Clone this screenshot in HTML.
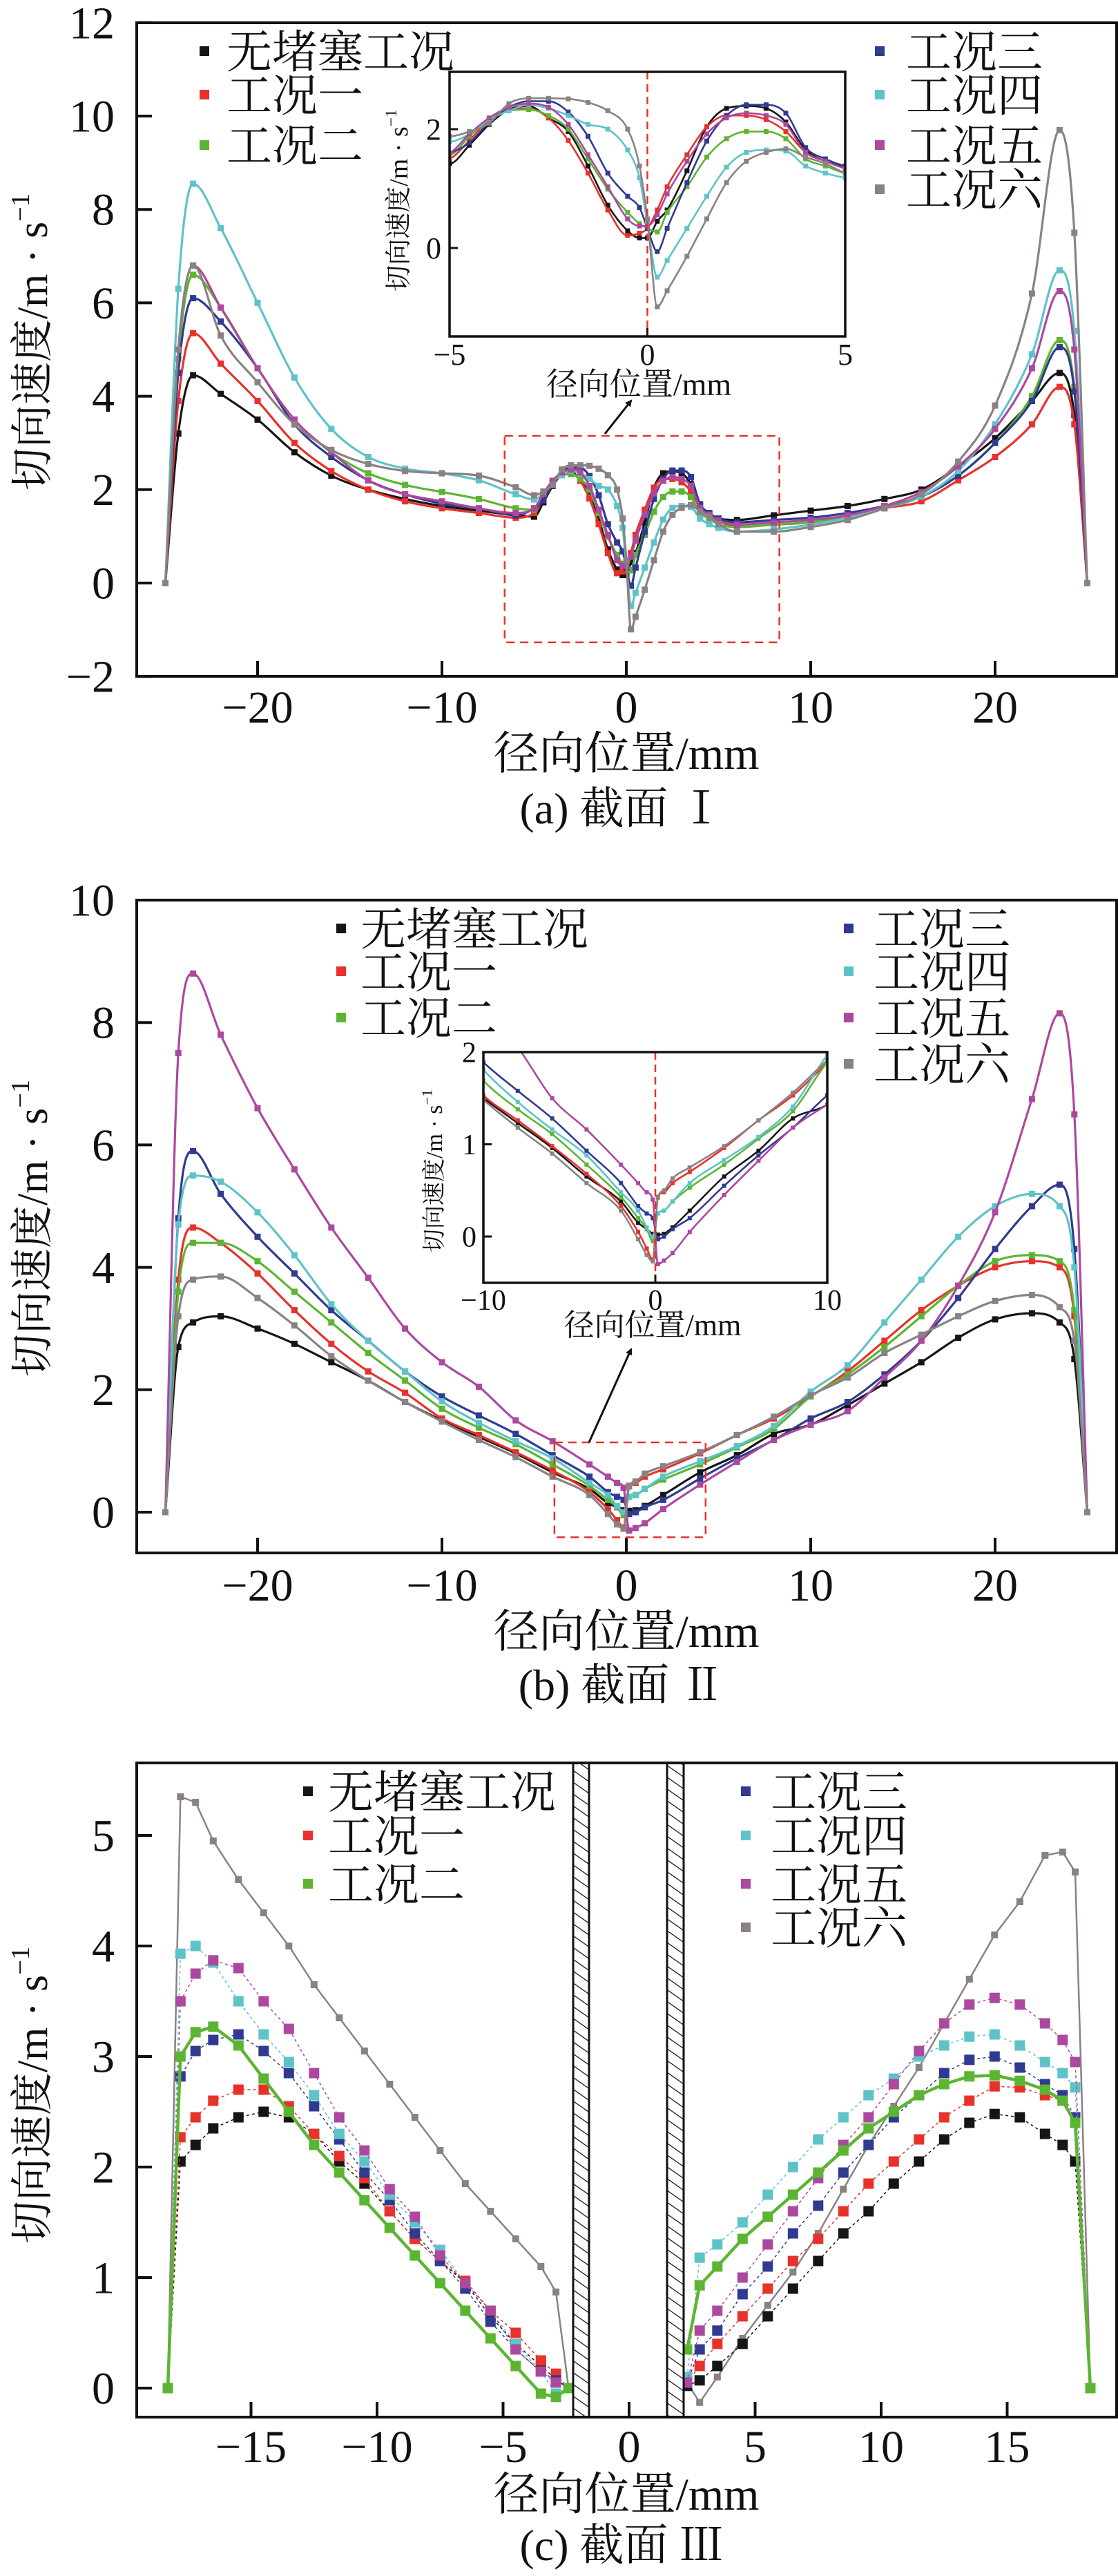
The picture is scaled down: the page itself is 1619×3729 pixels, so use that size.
<!DOCTYPE html>
<html><head><meta charset="utf-8">
<style>
html,body{margin:0;padding:0;background:#fff;}
svg{display:block;}
text{font-family:"Liberation Serif","Noto Serif CJK SC",serif;fill:#111;}
</style></head>
<body>
<svg id="fig" xmlns="http://www.w3.org/2000/svg" width="1619" height="3729" viewBox="0 0 1619 3729">
<defs>
<pattern id="hatch" patternUnits="userSpaceOnUse" width="14" height="14" patternTransform="rotate(-55)">
<rect width="14" height="14" fill="#fff"/><line x1="0" y1="0" x2="0" y2="14" stroke="#111" stroke-width="2.5"/>
</pattern>
<clipPath id="clipA"><rect x="198" y="33" width="1419" height="946"/></clipPath>
<clipPath id="clipAi"><rect x="651" y="104" width="573" height="383"/></clipPath>
<clipPath id="clipB"><rect x="198" y="1303" width="1419" height="945"/></clipPath>
<clipPath id="clipBi"><rect x="700" y="1523" width="498" height="334"/></clipPath>
<clipPath id="clipC"><rect x="198" y="2552" width="1419" height="947"/></clipPath>
<marker id="arrowHead" markerWidth="10" markerHeight="10" refX="8" refY="5" orient="auto" markerUnits="userSpaceOnUse"><path d="M0,0 L10,5 L0,10 Z" fill="#111"/></marker>
</defs>
<g id="root"></g>
</svg>
<script>
// ---------- Panel (a) data ----------
const xA = [-25,-24.3,-23.5,-22,-20,-18,-16,-14,-12,-10,-8,-6,
 -5,-4.5,-4,-3.5,-3,-2.5,-2,-1.5,-1,-0.5,-0.2,0,0.25,0.5,1,1.5,2,2.5,3,3.5,4,4.5,5,
 6,8,10,12,14,16,18,20,22,23.5,24.3,25];
const aBlack = [0,3.2,4.45,4.05,3.5,2.8,2.3,2.0,1.8,1.65,1.55,1.45,
 1.42,1.73,2.08,2.33,2.39,2.19,1.96,1.38,0.72,0.29,0.17,0.17,0.45,0.64,1.3,2.04,2.35,2.39,2.35,2.12,1.65,1.46,1.38,
 1.35,1.45,1.55,1.65,1.8,2.0,2.5,3.1,3.9,4.5,3.6,0];
const aRed = [0,3.9,5.35,4.7,3.9,3.0,2.4,2.0,1.75,1.6,1.5,1.4,
 1.5,1.81,2.16,2.33,2.35,2.19,1.81,1.26,0.64,0.21,0.25,0.33,0.64,1.03,1.57,2.04,2.23,2.23,2.16,1.96,1.61,1.46,1.34,
 1.2,1.25,1.3,1.4,1.6,1.75,2.2,2.7,3.4,4.2,3.4,0];
const aGreen = [0,4.8,6.6,5.9,4.6,3.5,2.8,2.35,2.1,1.95,1.8,1.6,
 1.57,1.88,2.16,2.31,2.33,2.23,2.0,1.5,0.99,0.6,0.41,0.33,0.27,0.6,1.03,1.53,1.84,1.96,1.96,1.84,1.5,1.38,1.26,
 1.2,1.25,1.3,1.45,1.65,1.85,2.3,3.0,4.0,5.2,4.2,0];
const aBlue = [0,4.5,6.1,5.6,4.6,3.4,2.7,2.2,1.9,1.7,1.6,1.45,
 1.6,1.77,2.12,2.37,2.47,2.47,2.29,1.88,1.26,0.87,0.68,0.33,-0.06,0.33,1.1,1.8,2.23,2.41,2.41,2.27,1.69,1.5,1.38,
 1.3,1.35,1.4,1.5,1.65,1.85,2.3,3.0,3.9,5.05,4.1,0];
const aCyan = [0,6.3,8.55,7.6,6.0,4.4,3.3,2.7,2.45,2.35,2.2,1.9,
 1.79,1.92,2.16,2.31,2.41,2.35,2.23,2.08,2.0,1.65,1.18,0.41,-0.49,-0.21,0.33,0.87,1.36,1.61,1.65,1.63,1.38,1.26,1.18,
 1.1,1.15,1.25,1.4,1.6,1.85,2.4,3.4,4.9,6.7,5.4,0];
const aMagenta = [0,5.0,6.8,5.9,4.6,3.5,2.8,2.2,1.9,1.75,1.6,1.5,
 1.6,1.92,2.19,2.37,2.43,2.37,2.08,1.57,1.03,0.49,0.37,0.37,0.56,0.91,1.46,1.92,2.19,2.27,2.23,2.08,1.61,1.46,1.34,
 1.25,1.3,1.35,1.45,1.65,1.95,2.5,3.3,4.6,6.25,5.0,0];
const aGray = [0,5.0,6.8,5.3,4.3,3.4,2.85,2.55,2.4,2.35,2.3,2.05,
 1.88,1.96,2.1,2.43,2.52,2.52,2.51,2.45,2.31,2.0,1.38,0.49,-0.99,-0.72,-0.14,0.49,1.1,1.46,1.61,1.67,1.53,1.42,1.26,
 1.1,1.1,1.2,1.35,1.6,1.9,2.6,3.8,6.2,9.7,7.5,0];
const aTicksX = [-20,-10,0,10,20];
const aTicksY = [-2,0,2,4,6,8,10,12];

// ---------- Panel (b) data ----------
const xB = [-25,-24.3,-23.5,-22,-20,-18,-16,-14,-12,-10,-8,-6,-4,-2,-1,-0.5,-0.15,0.15,0.5,1,2,4,6,8,10,12,14,16,18,20,22,23.5,24.3,25];
const bBlack = [0,2.7,3.1,3.2,3.0,2.75,2.45,2.15,1.8,1.5,1.23,0.96,0.65,0.38,0.15,0.08,0.03,0.02,0.03,0.1,0.28,0.65,0.93,1.28,1.43,1.75,2.1,2.45,2.85,3.15,3.25,3.1,2.5,0];
const bRed = [0,3.8,4.65,4.4,3.9,3.3,2.75,2.3,1.95,1.53,1.26,0.98,0.68,0.33,0.05,-0.13,-0.25,0.43,0.48,0.58,0.7,0.96,1.26,1.53,1.89,2.3,2.8,3.3,3.7,4.0,4.1,4.0,3.2,0];
const bGreen = [0,3.6,4.4,4.4,4.1,3.6,3.1,2.6,2.15,1.69,1.38,1.11,0.78,0.43,0.2,0.08,-0.05,0.25,0.28,0.38,0.53,0.78,1.06,1.36,1.89,2.25,2.7,3.2,3.7,4.1,4.2,4.1,3.3,0];
const bBlue = [0,4.8,5.9,5.2,4.5,3.9,3.3,2.8,2.3,1.89,1.58,1.28,0.93,0.58,0.33,0.25,0.2,-0.03,0,0.08,0.2,0.55,0.88,1.18,1.53,1.8,2.25,2.8,3.5,4.3,5.0,5.35,4.3,0];
const bCyan = [0,4.7,5.5,5.4,4.9,4.2,3.4,2.8,2.3,1.81,1.46,1.16,0.88,0.48,0.28,0.1,0.0,0.25,0.28,0.38,0.58,0.83,1.08,1.41,1.97,2.4,3.1,3.8,4.5,5.0,5.2,5.0,4.0,0];
const bMagenta = [0,7.5,8.8,7.8,6.6,5.6,4.65,3.83,3.0,2.45,2.05,1.5,1.16,0.78,0.58,0.48,0.4,-0.3,-0.26,-0.18,0.05,0.45,0.82,1.18,1.43,1.65,2.2,2.8,3.7,4.9,6.75,8.15,6.5,0];
const bGray = [0,3.2,3.8,3.85,3.5,3.05,2.55,2.15,1.8,1.48,1.18,0.9,0.58,0.28,-0.03,-0.2,-0.27,0.42,0.5,0.63,0.75,0.98,1.26,1.56,1.91,2.2,2.6,2.9,3.2,3.45,3.55,3.35,2.8,0];
const bTicksX = [-20,-10,0,10,20];
const bTicksY = [0,2,4,6,8,10];

// ---------- Panel (c) data ----------
const xCL = [-18.3,-17.8,-17.2,-16.5,-15.5,-14.5,-13.5,-12.5,-11.5,-10.5,-9.5,-8.5,-7.5,-6.5,-5.5,-4.5,-3.5,-2.9,-2.4];
const xCR = [2.3,2.8,3.5,4.5,5.5,6.5,7.5,8.5,9.5,10.5,11.5,12.5,13.5,14.5,15.5,16.5,17.2,17.7,18.3];
const cBlackL = [0,2.05,2.2,2.35,2.45,2.5,2.45,2.3,2.05,1.85,1.6,1.35,1.15,0.95,0.65,0.4,0.2,0.08,0];
const cRedL = [0,2.27,2.45,2.6,2.7,2.7,2.55,2.3,2.1,1.9,1.6,1.35,1.15,0.97,0.7,0.5,0.25,0.13,0];
const cGreenL = [0,3.0,3.22,3.27,3.1,2.8,2.5,2.2,1.95,1.7,1.45,1.2,0.95,0.7,0.45,0.2,-0.05,-0.08,0];
const cBlueL = [0,2.82,3.05,3.15,3.2,3.05,2.85,2.55,2.25,1.95,1.7,1.4,1.15,0.9,0.6,0.35,0.15,0.07,0];
const cCyanL = [0,3.93,4.0,3.85,3.5,3.2,2.95,2.65,2.3,2.05,1.75,1.5,1.25,0.95,0.7,0.4,0.15,-0.05,0];
const cMagentaL = [0,3.5,3.75,3.87,3.8,3.5,3.25,2.85,2.45,2.15,1.8,1.55,1.2,0.95,0.7,0.35,0.15,0.05,0];
const cGrayL = [0,5.35,5.3,4.95,4.6,4.3,4.0,3.65,3.35,3.05,2.75,2.45,2.15,1.85,1.6,1.35,1.1,0.87,0];
const cBlackR = [0.02,0.07,0.2,0.4,0.65,0.9,1.15,1.4,1.6,1.85,2.05,2.25,2.4,2.48,2.45,2.3,2.2,2.05,0];
const cRedR = [0.05,0.2,0.4,0.65,0.9,1.15,1.35,1.6,1.85,2.05,2.25,2.45,2.6,2.73,2.72,2.65,2.6,2.4,0];
const cGreenR = [0.35,0.93,1.1,1.35,1.55,1.75,1.95,2.15,2.35,2.5,2.65,2.75,2.82,2.83,2.78,2.7,2.6,2.4,0];
const cBlueR = [0.05,0.35,0.52,0.85,1.1,1.4,1.65,1.95,2.2,2.45,2.65,2.85,2.97,3.0,2.9,2.75,2.65,2.45,0];
const cCyanR = [0.1,1.18,1.3,1.5,1.75,2.0,2.25,2.45,2.65,2.8,3.0,3.1,3.18,3.2,3.1,2.95,2.85,2.72,0];
const cMagentaR = [0.05,0.52,0.7,1.0,1.3,1.6,1.9,2.2,2.45,2.75,3.05,3.3,3.47,3.53,3.47,3.3,3.15,2.95,0];
const cGrayR = [0.05,-0.13,0.1,0.45,0.75,1.05,1.4,1.8,2.2,2.55,2.9,3.3,3.7,4.1,4.4,4.82,4.85,4.67,0];
const cTicksX = [-15,-10,-5,0,5,10,15];
const cTicksY = [0,1,2,3,4,5];

const legendNames = ['无堵塞工况','工况一','工况二','工况三','工况四','工况五','工况六'];
const legendKeys = ['no-blockage','case-1','case-2','case-3','case-4','case-5','case-6'];
const COL = ['#151515','#e8312b','#5cb532','#2f3a90','#5ec3c9','#ad489f','#8a8282'];

const NS = 'http://www.w3.org/2000/svg';
const root = document.getElementById('root');
function el(tag, attrs, parent){
  const e = document.createElementNS(NS, tag);
  for (const k in attrs) e.setAttribute(k, attrs[k]);
  (parent||root).appendChild(e);
  return e;
}
function txt(s, attrs, parent){ const t = el('text', attrs, parent); t.textContent = s; return t; }
function fmt(v){ return v < 0 ? '\u2212' + Math.abs(v) : String(v); }

function monoPath(P){
  const n = P.length; if (n < 2) return '';
  const dx=[], m=[];
  for (let i=0;i<n-1;i++){ dx[i]=P[i+1][0]-P[i][0]; m[i]=(P[i+1][1]-P[i][1])/dx[i]; }
  const t=[m[0]];
  for (let i=1;i<n-1;i++) t[i] = (m[i-1]*m[i] <= 0) ? 0 : (m[i-1]+m[i])/2;
  t[n-1]=m[n-2];
  for (let i=0;i<n-1;i++){
    if (m[i]===0){ t[i]=0; t[i+1]=0; continue; }
    const a=t[i]/m[i], b=t[i+1]/m[i], s=a*a+b*b;
    if (s>9){ const k=3/Math.sqrt(s); t[i]=k*a*m[i]; t[i+1]=k*b*m[i]; }
  }
  let d = 'M'+P[0][0].toFixed(1)+','+P[0][1].toFixed(1);
  for (let i=0;i<n-1;i++){
    const h=dx[i]/3;
    d += ' C'+(P[i][0]+h).toFixed(1)+','+(P[i][1]+t[i]*h).toFixed(1)+' '+(P[i+1][0]-h).toFixed(1)+','+(P[i+1][1]-t[i+1]*h).toFixed(1)+' '+P[i+1][0].toFixed(1)+','+P[i+1][1].toFixed(1);
  }
  return d;
}

function frame(g, x0,y0,w,h, sw){
  const r = el('rect',{x:x0,y:y0,width:w,height:h,fill:'none',stroke:'#111','stroke-width':sw},g);
  
  
}

function axes(g, cfg){
  const {sx, sy, box, ticksX, ticksY, fs, tl, sw, labY, labXOff} = cfg;
  ticksX.forEach(v=>{
    const x = sx(v);
    const t = el('line',{x1:x,y1:box[3],x2:x,y2:box[3]-tl,stroke:'#111','stroke-width':sw},g);
    
    
    const l = txt(fmt(v),{x:x,y:labY,'font-size':fs,'text-anchor':'middle'},g);
    
    
  });
  ticksY.forEach(v=>{
    const y = sy(v);
    const t = el('line',{x1:box[0],y1:y,x2:box[0]+tl,y2:y,stroke:'#111','stroke-width':sw},g);
    
    
    const l = txt(fmt(v),{x:box[0]-labXOff,y:y+fs*0.34,'font-size':fs,'text-anchor':'end'},g);
    
    
  });
}

function ylabel(g, cx, cy, fs, name){
  const t = el('text',{transform:'translate('+cx+','+cy+') rotate(-90)','font-size':fs,'text-anchor':'middle'},g);
  
  
  t.appendChild(document.createTextNode('切向速度/m · s'));
  const sup = document.createElementNS(NS,'tspan');
  sup.setAttribute('font-size', fs*0.62);
  sup.setAttribute('dy', -fs*0.42);
  sup.textContent = '\u22121';
  t.appendChild(sup);
}

function curves(g, xs, series, sx, sy, clip, lw, ms, prefix, smooth){
  const cg = el('g',{'clip-path':'url(#'+clip+')'},g);
  series.forEach((ys,si)=>{
    const P = xs.map((x,i)=>[sx(x), sy(ys[i])]);
    const p = el('path',{d: smooth ? monoPath(P) : 'M'+P.map(q=>q[0].toFixed(1)+','+q[1].toFixed(1)).join(' L'), fill:'none', stroke:COL[si], 'stroke-width':lw},cg);
    
    
    P.forEach(q=>{
      const r = el('rect',{x:(q[0]-ms/2).toFixed(1),y:(q[1]-ms/2).toFixed(1),width:ms,height:ms,fill:COL[si]},cg);
      
      
    });
  });
}

function legend(g, cols, fs, ms){
  cols.forEach(c=>{
    c.idx.forEach((si,k)=>{
      const y = c.rows[k];
      const m = el('rect',{x:c.mx-ms/2,y:y-ms/2,width:ms,height:ms,fill:COL[si]},g);
      
      
      const t = txt(legendNames[si],{x:c.tx,y:y+fs*0.36,'font-size':fs},g);
      
      
    });
  });
}

function bottomTexts(g, titleY, capY, cap, capName){
  const t = txt('径向位置/mm',{x:907,y:titleY,'font-size':66,'text-anchor':'middle'},g);
  
  
  const c = txt(cap,{x:900,y:capY,'font-size':64,'text-anchor':'middle'},g);
  
  
}

// ================= Panel (a) =================
(function(){
  const g = el('g',{});  
  const box=[198,33,1617,979];
  const sx = x=>907+26.7*x, sy = v=>844-67.6*v;
  curves(g, xA, [aBlack,aRed,aGreen,aBlue,aCyan,aMagenta,aGray], sx, sy, 'clipA', 3.2, 9, 'a', true);
  frame(g,198,33,1419,946,4);
  axes(g,{sx,sy,box,ticksX:aTicksX,ticksY:aTicksY,fs:66,tl:22,sw:4,labY:1046,labXOff:32});
  ylabel(g, 68, 495, 62, 'y-axis-title');
  bottomTexts(g, 1113, 1192, '(a) 截面 Ⅰ', 'caption-a');
  legend(g,[{mx:296,tx:328,rows:[74,137,210],idx:[0,1,2]},{mx:1274,tx:1312,rows:[74,137,210,274],idx:[3,4,5,6]}],66,14);
  // zoom box
  const zr = el('rect',{x:sx(-6.6),y:sy(3.15),width:sx(8.3)-sx(-6.6),height:sy(-1.27)-sy(3.15),fill:'none',stroke:'#e8312b','stroke-width':2.5,'stroke-dasharray':'12 8'},g);
   
  const ar = el('line',{x1:876,y1:628,x2:914,y2:580,stroke:'#111','stroke-width':3,'marker-end':'url(#arrowHead)'},g);
   
  // inset
  const ig = el('g',{},g);  
  const bg = el('rect',{x:651,y:104,width:573,height:383,fill:'#fff'},ig);
   
  const isx = x=>937.5+57.3*x, isy = v=>359-86*v;
  const xi=[], si=[[],[],[],[],[],[],[]];
  const all=[aBlack,aRed,aGreen,aBlue,aCyan,aMagenta,aGray];
  xA.forEach((x,i)=>{ if (x>=-5.2 && x<=5.2){ xi.push(x); all.forEach((s,k)=>si[k].push(s[i])); } });
  const first = xA.indexOf(-6), last = xA.indexOf(6);
  const xi2=[xA[first]].concat(xi,[xA[last]]);
  const si2=all.map((s,k)=>[s[first]].concat(si[k],[s[last]]));
  curves(ig, xi2, si2, isx, isy, 'clipAi', 2.6, 7, 'inset-a', true);
  const dl = el('line',{x1:isx(0),y1:104,x2:isx(0),y2:487,stroke:'#e8312b','stroke-width':2.5,'stroke-dasharray':'11 7'},ig);
   
  frame(ig,651,104,573,383,3.5);
  axes(ig,{sx:isx,sy:isy,box:[651,104,1224,487],ticksX:[-5,0,5],ticksY:[0,2],fs:44,tl:12,sw:3,labXOff:12,labY:528});
  ylabel(ig, 590, 290, 38, 'inset-y-axis-title');
  const it = txt('径向位置/mm',{x:925,y:572,'font-size':46,'text-anchor':'middle'},ig);
   
})();

// ================= Panel (b) =================
(function(){
  const g = el('g',{});  
  const box=[198,1303,1617,2248];
  const sx = x=>907+26.7*x, sy = v=>2189-88.6*v;
  const all=[bBlack,bRed,bGreen,bBlue,bCyan,bMagenta,bGray];
  curves(g, xB, all, sx, sy, 'clipB', 3.2, 9, 'b', true);
  frame(g,198,1303,1419,945,4);
  axes(g,{sx,sy,box,ticksX:bTicksX,ticksY:bTicksY,fs:66,tl:22,sw:4,labY:2317,labXOff:32});
  ylabel(g, 68, 1778, 62, 'y-axis-title');
  bottomTexts(g, 2384, 2461, '(b) 截面 Ⅱ', 'caption-b');
  legend(g,[{mx:494,tx:522,rows:[1344,1406,1473],idx:[0,1,2]},{mx:1229,tx:1265,rows:[1344,1406,1473,1540],idx:[3,4,5,6]}],66,14);
  const zr = el('rect',{x:sx(-3.9),y:sy(1.14),width:sx(4.3)-sx(-3.9),height:sy(-0.41)-sy(1.14),fill:'none',stroke:'#e8312b','stroke-width':2.5,'stroke-dasharray':'12 8'},g);
   
  const ar = el('line',{x1:853,y1:2088,x2:914,y2:1953,stroke:'#111','stroke-width':3,'marker-end':'url(#arrowHead)'},g);
   
  const ig = el('g',{},g);  
  const bg = el('rect',{x:700,y:1523,width:498,height:334,fill:'#fff'},ig);
   
  const isx = x=>949+24.9*x, isy = v=>1790-133.5*v;
  const xi=[], si=all.map(()=>[]);
  xB.forEach((x,i)=>{ if (x>=-12.5 && x<=12.5){ xi.push(x); all.forEach((s,k)=>si[k].push(s[i])); } });
  curves(ig, xi, si, isx, isy, 'clipBi', 2.6, 6, 'inset-b', true);
  const dl = el('line',{x1:isx(0),y1:1523,x2:isx(0),y2:1857,stroke:'#e8312b','stroke-width':2.5,'stroke-dasharray':'11 7'},ig);
   
  frame(ig,700,1523,498,334,3.5);
  axes(ig,{sx:isx,sy:isy,box:[700,1523,1198,1857],ticksX:[-10,0,10],ticksY:[0,1,2],fs:42,tl:12,sw:3,labXOff:10,labY:1896});
  ylabel(ig, 640, 1695, 34, 'inset-y-axis-title');
  const it = txt('径向位置/mm',{x:945,y:1933,'font-size':44,'text-anchor':'middle'},ig);
   
})();

// ================= Panel (c) =================
(function(){
  const g = el('g',{});  
  const box=[198,2552,1617,3499];
  const sx = x=>911+36.5*x, sy = v=>3457-160*v;
  const L=[cBlackL,cRedL,cGreenL,cBlueL,cCyanL,cMagentaL,cGrayL];
  const R=[cBlackR,cRedR,cGreenR,cBlueR,cCyanR,cMagentaR,cGrayR];
  const cg = el('g',{'clip-path':'url(#clipC)'},g);
  [[xCL,L,'left'],[xCR,R,'right']].forEach(([xs,S,side])=>{
    [6,0,1,3,4,5,2].forEach(si=>{
      const ys=S[si];
      const P = xs.map((x,i)=>[sx(x), sy(ys[i])]);
      const d = 'M'+P.map(q=>q[0].toFixed(1)+','+q[1].toFixed(1)).join(' L');
      const attrs = {d, fill:'none', stroke:COL[si]};
      if (si===6){ attrs['stroke-width']=2.5; }
      else if (si===2){ attrs['stroke-width']=4.5; }
      else { attrs['stroke-width']=1.5; attrs['stroke-dasharray']='4 4'; }
      const p = el('path',attrs,cg);
      
      
      const ms = si===6 ? 10 : 15;
      P.forEach(q=>{
        const r = el('rect',{x:(q[0]-ms/2).toFixed(1),y:(q[1]-ms/2).toFixed(1),width:ms,height:ms,fill:COL[si]},cg);
        
        
      });
    });
  });
  [[830,853],[966,990]].forEach((w,i)=>{
    const r = el('rect',{x:w[0],y:2552,width:w[1]-w[0],height:947,fill:'url(#hatch)',stroke:'#111','stroke-width':3},g);
    
    
  });
  frame(g,198,2552,1419,947,4);
  axes(g,{sx,sy,box,ticksX:cTicksX,ticksY:cTicksY,fs:66,tl:22,sw:4,labY:3564,labXOff:32});
  ylabel(g, 68, 3033, 62, 'y-axis-title');
  bottomTexts(g, 3633, 3706, '(c) 截面 Ⅲ', 'caption-c');
  legend(g,[{mx:446,tx:475,rows:[2593,2657,2727],idx:[0,1,2]},{mx:1080,tx:1116,rows:[2593,2657,2727,2790],idx:[3,4,5,6]}],66,14);
})();
</script>
</body></html>
